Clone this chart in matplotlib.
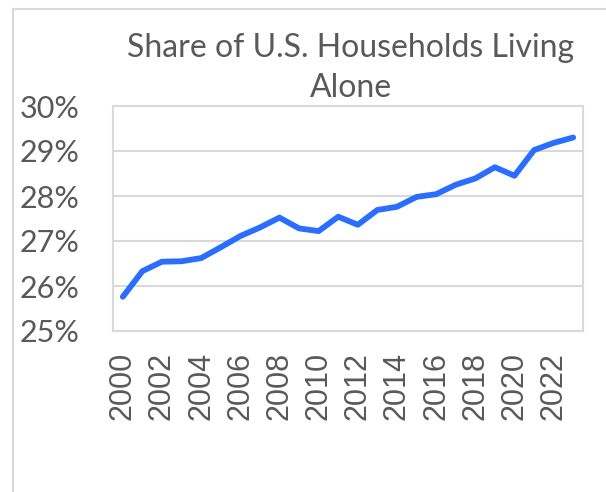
import matplotlib.pyplot as plt
from matplotlib.lines import Line2D
from matplotlib.ticker import FuncFormatter

years = list(range(2000, 2024))
share = [25.76, 26.33, 26.54, 26.55, 26.62, 26.86, 27.11, 27.30, 27.52, 27.28,
         27.22, 27.54, 27.36, 27.69, 27.76, 27.98, 28.04, 28.25, 28.39, 28.64,
         28.45, 29.02, 29.18, 29.30]
yticks = [25, 26, 27, 28, 29, 30]
title = "Share of U.S. Households Living\nAlone"

grid_c = "#D9D9D9"
text_c = "#595959"

fig = plt.figure(figsize=(6.06, 4.92), dpi=100)
ax = fig.add_axes([113 / 606, 1 - 331 / 492, 470 / 606, 225 / 492])

x = list(range(len(years)))
ax.plot(x, share, color="#2B6EFF", linewidth=4.2, solid_capstyle="round", solid_joinstyle="round")

ax.set_xlim(-0.5, len(years) - 0.5)
ax.set_ylim(25, 30)
ax.set_yticks(yticks)
ax.yaxis.set_major_formatter(FuncFormatter(lambda v, p: f"{v:.0f}%"))
ax.set_xticks(x[::2])
ax.set_xticklabels([str(y) for y in years[::2]], rotation=90,
                   fontfamily="Liberation Sans", fontsize=22, color=text_c)
for lab in ax.get_yticklabels():
    lab.set_fontfamily("Lato")
    lab.set_fontsize(22)
    lab.set_color(text_c)
ax.tick_params(axis="both", length=0)
ax.tick_params(axis="y", pad=24)
ax.tick_params(axis="x", pad=15)
ax.grid(axis="y", color=grid_c, linewidth=1.5)
ax.set_axisbelow(True)
for s in ax.spines.values():
    s.set_color(grid_c)
    s.set_linewidth(1.5)

fig.text(351 / 606, 1 - 68 / 492, title, ha="center", va="center", fontfamily="Lato",
         fontsize=23, color=text_c, linespacing=1.4)

# outer chart border (only left and top visible in the crop)
fig.add_artist(Line2D([13 / 606, 13 / 606], [0, 1 - 9 / 492], color=grid_c, linewidth=1.5,
                      transform=fig.transFigure))
fig.add_artist(Line2D([13 / 606, 1], [1 - 9 / 492, 1 - 9 / 492], color=grid_c, linewidth=1.5,
                      transform=fig.transFigure))

fig.savefig("out.png", dpi=100)
